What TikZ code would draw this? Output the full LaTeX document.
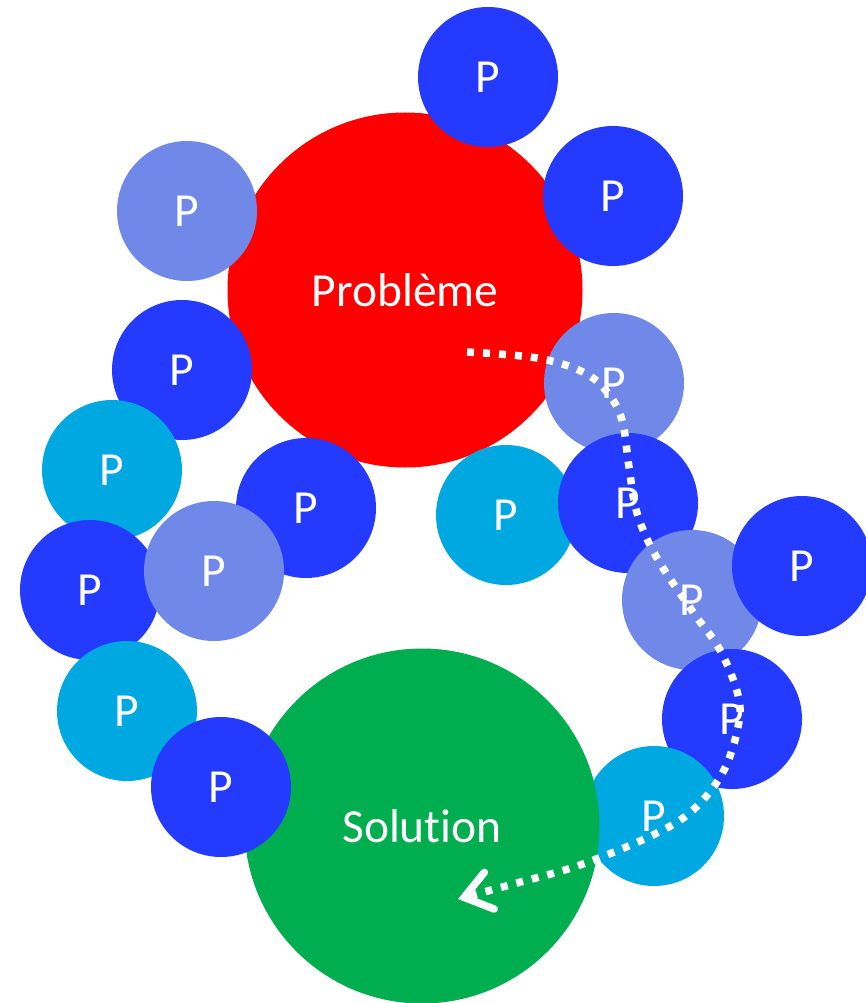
\documentclass[tikz,border=0pt]{standalone}
\usepackage{fontspec}
\setmainfont{Carlito}[Ligatures={NoCommon}]
\usetikzlibrary{arrows.meta}
\definecolor{dblue}{RGB}{36,58,255}
\definecolor{lpurple}{RGB}{112,136,232}
\definecolor{cyanb}{RGB}{0,168,226}
\definecolor{redc}{RGB}{255,0,0}
\definecolor{greenc}{RGB}{0,174,80}
\begin{document}
\begin{tikzpicture}[x=1pt,y=-1pt,
  lbl/.style={text=white, font=\fontsize{47.5}{57}\selectfont},
  small/.style={circle, inner sep=0pt, minimum size=140pt, lbl},
  big/.style={circle, inner sep=0pt, minimum size=355pt, lbl},
  db/.style={small, fill=dblue},
  lp/.style={small, fill=lpurple},
  cy/.style={small, fill=cyanb},
  flow/.style={draw=white, line width=7.5pt, dash pattern=on 7pt off 9pt,
    -{Straight Barb[length=26pt, width=38pt, line cap=round]}}]
\useasboundingbox (0,0) rectangle (866,1003);
\node[big, fill=redc] (prob) at (405,290) {Problème};
\node[db] (p1) at (488,77) {P};
\node[db] (p2) at (613,196) {P};
\node[lp] (p3) at (187,211) {P};
\node[db] (p4) at (182,370) {P};
\node[cy] (p6) at (112,470) {P};
\node[db] (p7) at (306,508) {P};
\node[db] (p10) at (90,590) {P};
\node[lp] (p11) at (214,571) {P};
\node[cy] (p14) at (127,711) {P};
\node[lp] (p5) at (614,383) {P};
\node[cy] (p8) at (506,515) {P};
\node[db] (p9) at (628,503) {P};
\node[lp] (p12) at (692,600) {P};
\node[db] (p13) at (802,566) {P};
\node[db] (p15) at (732,719) {P};
\node[cy] (p17) at (654,816) {P};
\node[big, fill=greenc] (sol) at (422,826) {Solution};
\node[db] (p16) at (221,787) {P};
\coordinate (s) at (467,352);
\coordinate (e) at (458,899);
\draw[flow] plot[smooth, tension=0.6] coordinates {(s) (537,358) (583,372) (607,392) (622,420) (629,467) (637,513) (657,558) (693,612) (720,650) (738,695) (738,727) (723,772) (693,810) (653,835) (580,865) (517,883) (e)};
\end{tikzpicture}
\end{document}
